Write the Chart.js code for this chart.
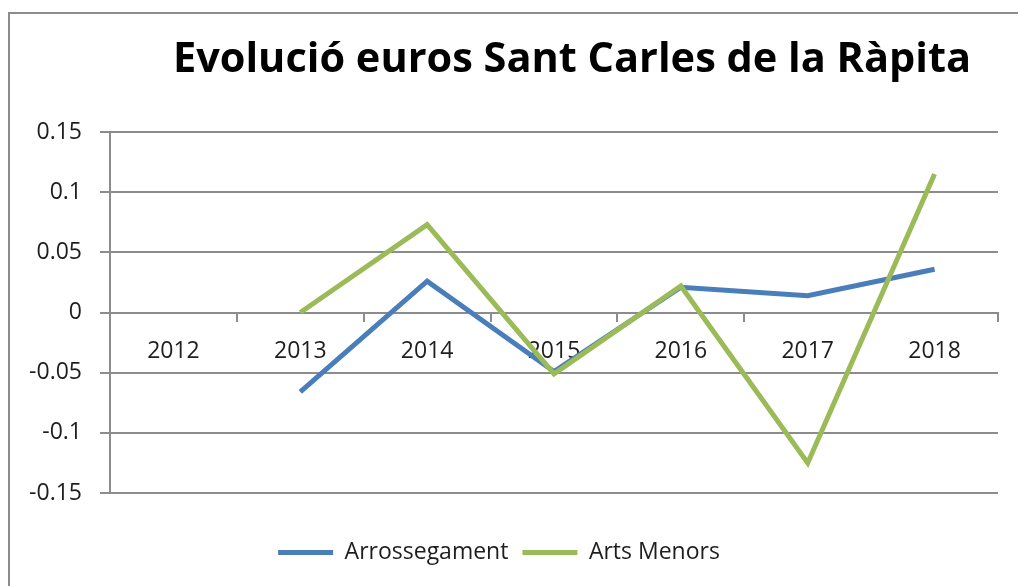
<!DOCTYPE html>
<html>
<head>
<meta charset="utf-8">
<script src="https://cdn.jsdelivr.net/npm/chart.js@4"></script>
<style>
  html, body { margin: 0; padding: 0; background: #fff; overflow: hidden; }
  #wrap { position: relative; width: 1018px; height: 586px; }
  #frame { position: absolute; left: 8px; top: 12px; width: 1100px; height: 700px;
           border-left: 2px solid #8c8c8c; border-top: 2px solid #8c8c8c; }
  canvas { position: absolute; left: 0; top: 0; }
</style>
</head>
<body>
<div id="wrap">
  <div id="frame"></div>
  <canvas id="chart" width="1018" height="586"></canvas>
</div>
<script>
// Dades
const years = ["2012", "2013", "2014", "2015", "2016", "2017", "2018"];
const arrossegament = [null, -0.066, 0.026, -0.049, 0.021, 0.014, 0.036];
const artsMenors = [null, 0, 0.073, -0.051, 0.022, -0.125, 0.115];
const chartTitle = "Evolució euros Sant Carles de la Ràpita";

const gridColor = "#8c8c8c";
const textColor = "#1e1e1e";
const fontFamily = "'Open Sans', sans-serif";

// Titol dibuixat a sobre
const titlePlugin = {
  id: "titleText",
  afterDraw(chart) {
    const ctx = chart.ctx;
    ctx.save();
    ctx.font = "bold 41.5px " + fontFamily;
    ctx.fillStyle = "#000";
    ctx.textAlign = "center";
    ctx.textBaseline = "alphabetic";
    ctx.fillText(chartTitle, 572, 72);
    ctx.restore();
  }
};

new Chart(document.getElementById("chart"), {
  type: "line",
  data: {
    labels: years,
    datasets: [
      { label: "Arrossegament", data: arrossegament, borderColor: "#4a7ebb",
        backgroundColor: "#4a7ebb", borderWidth: 5, pointRadius: 0, tension: 0, order: 1 },
      { label: "Arts Menors", data: artsMenors, borderColor: "#9bbb59",
        backgroundColor: "#9bbb59", borderWidth: 5, pointRadius: 0, tension: 0, order: 0 }
    ]
  },
  options: {
    responsive: false,
    animation: false,
    layout: { padding: { top: 132, right: 20, bottom: 12, left: 0 } },
    plugins: {
      title: { display: false },
      tooltip: { enabled: false },
      legend: {
        position: "bottom",
        // titol buit, nomes per baixar la llegenda
        title: { display: true, text: " ", font: { size: 10 }, padding: { top: 0, bottom: 22 } },
        labels: {
          boxWidth: 55,
          boxHeight: 5,
          padding: 14,
          color: textColor,
          font: { family: fontFamily, size: 23 },
          generateLabels(chart) {
            return chart.data.datasets.map((ds, i) => ({
              text: ds.label,
              fillStyle: ds.borderColor,
              strokeStyle: ds.borderColor,
              lineWidth: 0,
              fontColor: textColor,
              datasetIndex: i
            }));
          }
        }
      }
    },
    scales: {
      y: {
        min: -0.15,
        max: 0.15,
        afterFit(scale) { scale.width = 110; },
        ticks: {
          stepSize: 0.05,
          padding: 18,
          color: textColor,
          font: { family: fontFamily, size: 23 },
          callback: v => String(parseFloat(v.toFixed(2)))
        },
        grid: { color: gridColor, lineWidth: 2, tickLength: 10 },
        border: { color: gridColor, width: 2 }
      },
      x: {
        position: { y: 0 },
        offset: true,
        ticks: {
          padding: 17,
          color: textColor,
          font: { family: fontFamily, size: 23 },
          maxRotation: 0
        },
        grid: { offset: true, drawOnChartArea: false, drawTicks: true, tickLength: 8,
                color: gridColor, lineWidth: 2 },
        border: { color: gridColor, width: 2 }
      }
    }
  },
  plugins: [titlePlugin]
});
</script>
</body>
</html>
